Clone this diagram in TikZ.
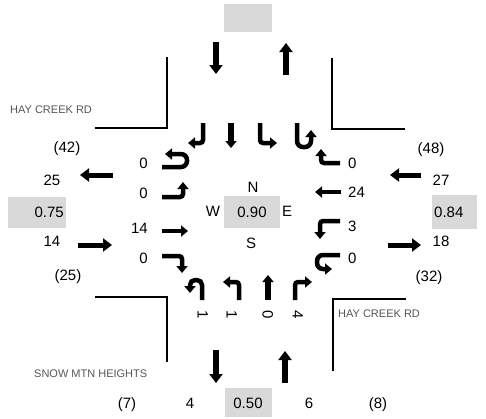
\documentclass[tikz,border=0pt]{standalone}
\usepackage{fontspec}
\setmainfont{Liberation Sans}
\definecolor{boxgrey}{RGB}{217, 217, 217}
\definecolor{roadgrey}{RGB}{85, 85, 85}
\usetikzlibrary{arrows.meta}
\tikzset{
  num/.style={font=\fontsize{15}{18}\selectfont, inner sep=0pt, text height=10.7pt, text depth=0pt},
  roadname/.style={font=\fontsize{11}{13}\selectfont, text=roadgrey, inner sep=0pt, text height=7.9pt, text depth=0pt},
  curb/.style={line width=1.6pt},
  flowarrow/.style={line width=6.5pt, -{Triangle[length=9pt, width=13pt]}},
  lanearrow/.style={line width=4.5pt, rounded corners=3pt, -{Triangle[length=7pt, width=11pt]}},
}

\begin{document}
\begin{tikzpicture}[x=1pt, y=-1pt]
  \useasboundingbox (0,0) rectangle (486,418);

  % Curb corners
  \draw[curb] (167,57) -- (167,128) -- (95,128);
  \draw[curb] (332,58) -- (332,129) -- (405,129);
  \draw[curb] (95,297) -- (167,297) -- (167,362);
  \draw[curb] (333,371) -- (333,299) -- (406,299);

  % Road names
  \node[roadname, anchor=west] (haywest) at (10,110) {HAY CREEK RD};
  \node[roadname, anchor=west] (hayeast) at (338,314) {HAY CREEK RD};
  \node[roadname, anchor=west] (snowmtn) at (34,374) {SNOW MTN HEIGHTS};

  % Peak hour factors
  \fill[boxgrey] (224,4) rectangle (272,32);
  \fill[boxgrey] (8,197) rectangle (66,228);
  \fill[boxgrey] (432,195) rectangle (477,229);
  \fill[boxgrey] (225,388) rectangle (272,417);
  \fill[boxgrey] (224,196) rectangle (280,228);
  \node[num, anchor=east] (phfwest) at (64,212.5) {0.75};
  \node[num, anchor=west] (phfeast) at (434,212) {0.84};
  \node[num] (phfsouth) at (248,403) {0.50};
  \node[num] (phfall) at (252,212) {0.90};

  % Compass
  \node[num] (north) at (253,187) {N};
  \node[num] (west) at (213,211) {W};
  \node[num] (east) at (287,211) {E};
  \node[num] (south) at (251,243) {S};

  % Approach and departure flows
  \draw[flowarrow] (216,42) -- (216,74);
  \draw[flowarrow] (286,75) -- (286,43);
  \draw[flowarrow, line width=5pt] (113,175) -- (80,175);
  \draw[flowarrow, line width=5pt] (78,245) -- (112,245);
  \draw[flowarrow, line width=5pt] (421,175) -- (390,175);
  \draw[flowarrow, line width=5pt] (388,245) -- (421,245);
  \draw[flowarrow] (216,350) -- (216,383);
  \draw[flowarrow] (285,383) -- (285,351);

  \node[num] (westtot) at (67,147) {(42)};
  \node[num] (westout) at (52,180) {25};
  \node[num] (westin) at (52,241) {14};
  \node[num] (westtot2) at (68,275) {(25)};
  \node[num] (easttot) at (431,148) {(48)};
  \node[num] (eastin) at (441,180) {27};
  \node[num] (eastout) at (441,241) {18};
  \node[num] (easttot2) at (429,276) {(32)};
  \node[num] (southtot) at (127,403) {(7)};
  \node[num] (southout) at (190,403) {4};
  \node[num] (southin) at (309,403) {6};
  \node[num] (southtot2) at (378,403) {(8)};

  % Southbound lanes
  \draw[lanearrow] (203,123) -- (203,143) -- (188,143);
  \draw[lanearrow, line width=5.5pt] (231,123) -- (231,148);
  \draw[lanearrow] (260,123) -- (260,143) -- (277,143);
  \draw[lanearrow, rounded corners=6pt] (297,123) -- (297,147) -- (311,147) -- (311,130);

  % Eastbound lanes
  \draw[lanearrow, rounded corners=6pt] (162,167) -- (187,167) -- (187,154) -- (165,154);
  \draw[lanearrow] (162,197) -- (183,197) -- (183,182);
  \draw[lanearrow] (162,231) -- (188,231);
  \draw[lanearrow] (162,256) -- (182,256) -- (182,273);
  \node[num, anchor=east] (ebu) at (148,163) {0};
  \node[num, anchor=east] (ebl) at (148,193) {0};
  \node[num, anchor=east] (ebt) at (148,228) {14};
  \node[num, anchor=east] (ebr) at (148,258) {0};

  % Westbound lanes
  \draw[lanearrow] (340,163) -- (321,163) -- (321,149);
  \draw[lanearrow] (341,192) -- (315,192);
  \draw[lanearrow] (340,221) -- (320,221) -- (320,239);
  \draw[lanearrow, rounded corners=6pt] (340,255) -- (317,255) -- (317,269) -- (332,269);
  \node[num, anchor=west] (wbr) at (348,163) {0};
  \node[num, anchor=west] (wbt) at (348,192) {24};
  \node[num, anchor=west] (wbl) at (348,226) {3};
  \node[num, anchor=west] (wbu) at (348,258) {0};

  % Northbound lanes
  \draw[lanearrow, rounded corners=5pt] (202,300) -- (202,280) -- (190,280) -- (190,293);
  \draw[lanearrow] (239,300) -- (239,282) -- (223,282);
  \draw[lanearrow, line width=5.5pt] (268,300) -- (268,275);
  \draw[lanearrow] (295,300) -- (295,282) -- (312,282);
  \node[num, rotate=-90] (nbu) at (203,315) {1};
  \node[num, rotate=-90] (nbl) at (232,315) {1};
  \node[num, rotate=-90] (nbt) at (268,315) {0};
  \node[num, rotate=-90] (nbr) at (298,315) {4};
\end{tikzpicture}
\end{document}
